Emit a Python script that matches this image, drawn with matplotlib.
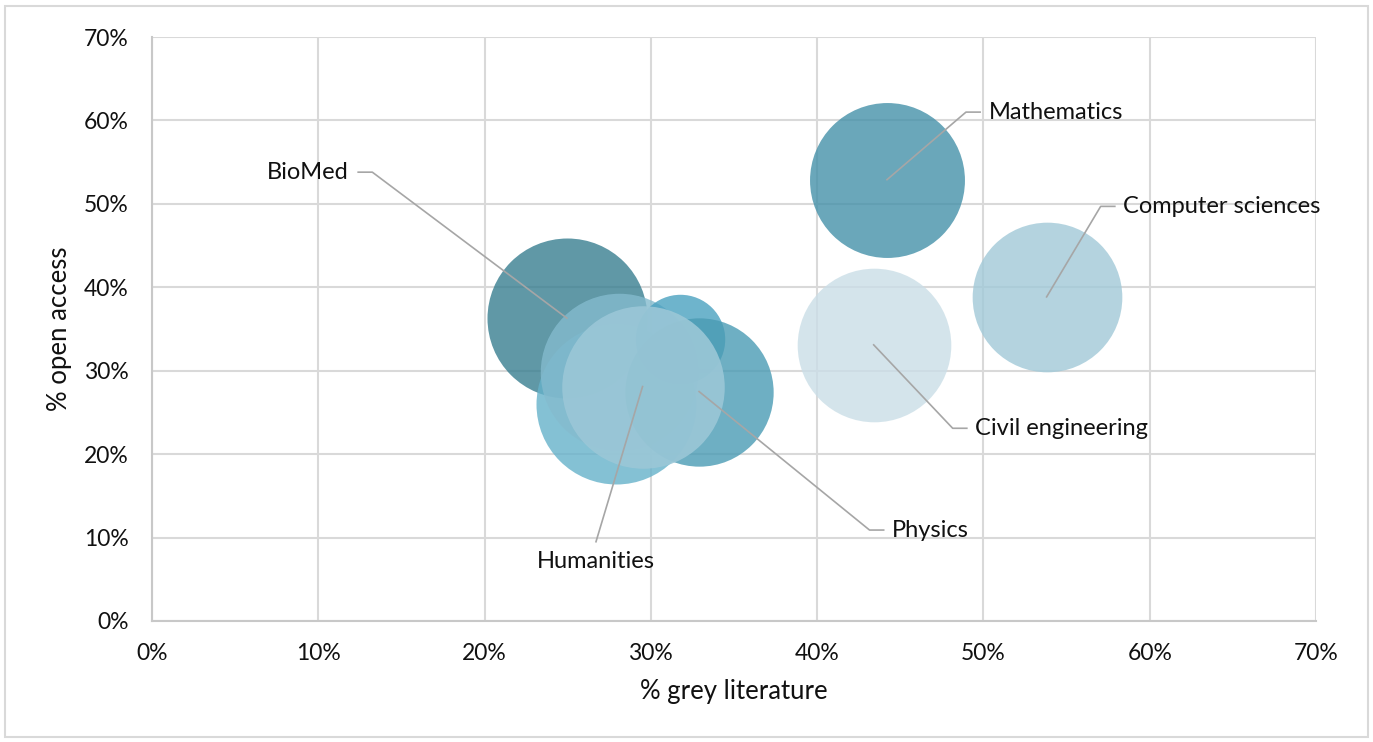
import matplotlib.pyplot as plt
from matplotlib.patches import Rectangle
from matplotlib.ticker import PercentFormatter

plt.rcParams['font.family'] = ['Lato', 'DejaVu Sans']

# disciplines (unlabelled ones have no data label)
fields = ['BioMed', '', '', '', 'Physics', 'Mathematics',
          'Civil engineering', 'Computer sciences', 'Humanities']
grey_lit = [24.95, 27.9, 28.1, 31.75, 32.9, 44.2, 43.4, 53.8, 29.5]
open_access = [36.3, 26.0, 29.9, 33.8, 27.5, 52.9, 33.1, 38.85, 28.1]
volume = [64, 64, 62, 20, 55, 60, 59, 56, 66]
colors = ['#387e90', '#66b2ca', '#84bbce', '#4aa1c0', '#4a9bb4',
          '#4591a9', '#cadee7', '#a1c9d8', '#9bc7d7']
alphas = [0.8, 0.8, 0.8, 0.8, 0.8, 0.8, 0.8, 0.8, 0.9]

# label anchors (% grey, % OA) and which side the leader leaves from
label_x = [11.8, None, None, None, 44.5, 50.3, 49.5, 58.4, 26.7]
label_y = [53.8, None, None, None, 10.9, 61.0, 23.1, 49.7, 7.1]
label_side = ['right', None, None, None, 'left', 'left', 'left', 'left', 'top']

fig = plt.figure(figsize=(13.73, 7.42), dpi=100)
ax = fig.add_axes([0.1107, 0.1631, 0.8478, 0.787])

for i in range(len(fields)):
    ax.scatter(grey_lit[i], open_access[i], s=volume[i] * 207.36,
               color=colors[i], alpha=alphas[i], linewidths=0, zorder=3)

lead = '#a6a6a6'
lab_fs = 17
for i, name in enumerate(fields):
    if not name:
        continue
    tx, ty, side = label_x[i], label_y[i], label_side[i]
    if side == 'right':
        ax.text(tx, ty, name, ha='right', va='center', fontsize=lab_fs,
                color='#111111', zorder=5)
        sx = tx + 0.6
        ax.plot([sx, sx + 0.85, grey_lit[i]], [ty, ty, open_access[i]],
                color=lead, lw=1.2, zorder=4)
    elif side == 'left':
        ax.text(tx, ty, name, ha='left', va='center', fontsize=lab_fs,
                color='#111111', zorder=5)
        sx = tx - 0.5
        ax.plot([sx, sx - 0.85, grey_lit[i]], [ty, ty, open_access[i]],
                color=lead, lw=1.2, zorder=4)
    else:
        ax.text(tx, ty, name, ha='center', va='center', fontsize=lab_fs,
                color='#111111', zorder=5)
        ax.plot([tx, grey_lit[i]], [ty + 2.4, open_access[i]],
                color=lead, lw=1.2, zorder=4)

ax.set_xlim(0, 70)
ax.set_ylim(0, 70)
ax.set_xticks(range(0, 71, 10))
ax.set_yticks(range(0, 71, 10))
ax.xaxis.set_major_formatter(PercentFormatter(decimals=0))
ax.yaxis.set_major_formatter(PercentFormatter(decimals=0))
ax.tick_params(length=0, labelsize=16.5, labelcolor='#111111')
ax.tick_params(axis='y', pad=17)
ax.tick_params(axis='x', pad=16)
ax.grid(True, color='#d9d9d9', lw=1.5, zorder=0)
ax.set_axisbelow(True)
for s in ['top', 'right']:
    ax.spines[s].set_visible(False)
for s in ['left', 'bottom']:
    ax.spines[s].set_color('#c8c8c8')
    ax.spines[s].set_linewidth(1.5)

ax.set_xlabel('% grey literature', fontsize=18.5, color='#111111', labelpad=11)
ax.set_ylabel('% open access', fontsize=18.5, color='#111111', labelpad=8)

fig.patches.append(Rectangle((0.004, 0.007), 0.992, 0.985, transform=fig.transFigure,
                             fill=False, edgecolor='#d9d9d9', lw=1.5))

fig.savefig('out.png', dpi=100)
